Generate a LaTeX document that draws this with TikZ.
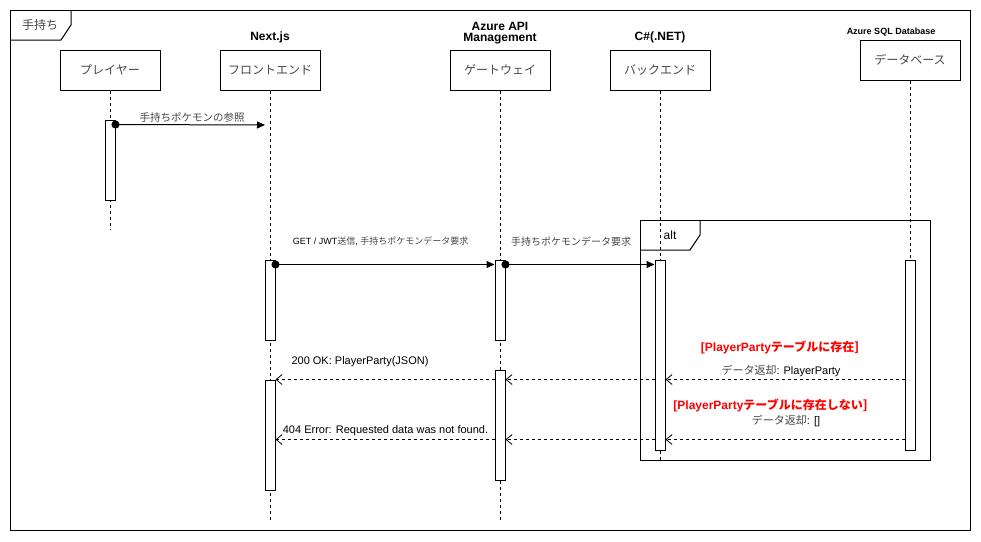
\documentclass[tikz,border=0pt]{standalone}
\usepackage{fontspec}
\setmainfont{Liberation Sans}
\newfontfamily\jp{Noto Sans CJK JP}
\usetikzlibrary{arrows.meta}
\newcommand{\fs}[1]{\fontsize{#1}{#1}\selectfont}
\newcommand{\J}[1]{{\jp\color{black!72}#1}}
\begin{document}
\begin{tikzpicture}[x=1pt,y=-1pt,
  part/.style={draw, line width=1pt, minimum width=100pt, minimum height=40pt, inner sep=0pt},
  act/.style={draw, fill=white, line width=1pt, minimum width=10pt, inner sep=0pt},
  life/.style={line width=1pt, dash pattern=on 3pt off 3pt},
  sync/.style={line width=1pt, {Circle[length=8pt]}-{Triangle[length=8pt,width=7pt]}, shorten <=-4pt},
  ret/.style={line width=0.8pt, dash pattern=on 3pt off 3pt, -{Straight Barb[length=6pt,width=10pt,line width=0.8pt]}},
  lbl/.style={inner sep=0pt, font=\fs{11}},
  small/.style={inner sep=0pt, font=\fs{9}},
  head/.style={inner sep=0pt, font=\bfseries\fs{12}, align=center},
  cond/.style={inner sep=0pt, font=\bfseries\fs{12}, text=red},
  frm/.style={line width=1pt}]
\useasboundingbox (0,0) rectangle (981,541);

% outer frame
\draw[frm] (10,10) rectangle (970,530);
\draw[frm] (10,40) -- (61,40) -- (71,25) -- (71,10);
\node[lbl, font=\fs{12}] (ftitle) at (40,25) {\J{手持ち}};

% headers
\node[head] (hnext) at (270,37) {Next.js};
\node[head] (hapi) at (500,33.5) {Azure API\\[-1pt]Management};
\node[head] (hcs) at (660,37) {C\#(.NET)};
\node[head, font=\bfseries\fs{9}] (hsql) at (891,32) {Azure SQL Database};

% participants
\node[part] (p1) at (110,70) {\fs{12}\J{プレイヤー}};
\node[part] (p2) at (270,70) {\fs{12}\J{フロントエンド}};
\node[part] (p3) at (500,70) {\fs{12}\J{ゲートウェイ}};
\node[part] (p4) at (660,70) {\fs{12}\J{バックエンド}};
\node[part] (p5) at (910,60) {\fs{12}\J{データベース}};

% lifeline ends
\coordinate (e1) at (110,230);
\coordinate (e2) at (270,520);
\coordinate (e3) at (500,520);
\coordinate (e4) at (660,460);
\coordinate (e5) at (910,450);
\draw[life] (p1.south) -- (e1);
\draw[life] (p2.south) -- (e2);
\draw[life] (p3.south) -- (e3);
\draw[life] (p4.south) -- (e4);
\draw[life] (p5.south) -- (e5);

% alt frame
\draw[frm] (640,220) rectangle (930,460);
\draw[frm] (640,250) -- (690,250) -- (700,235) -- (700,220);
\node[lbl, font=\fs{12}] (alt) at (670,235) {alt};

% activations
\node[act, minimum height=80pt] (pa) at (110,160) {};
\node[act, minimum height=80pt] (na1) at (270,300) {};
\node[act, minimum height=110pt] (na2) at (270,435) {};
\node[act, minimum height=80pt] (ga1) at (500,300) {};
\node[act, minimum height=110pt] (ga2) at (500,425) {};
\node[act, minimum height=190pt] (ba) at (660,355) {};
\node[act, minimum height=190pt] (da) at (910,355) {};

% message 1
\coordinate (m1e) at (265,125);
\draw[sync] ([yshift=-5pt]pa.north east) -- (m1e);
\node[lbl, font=\fs{10.5}] (l1) at (192,117) {\J{手持ちポケモンの参照}};

% message 2, 3
\draw[sync] ([yshift=-5pt]na1.north east) -- ([yshift=-5pt]ga1.north west);
\node[small] (l2) at (380.5,241.5) {GET / JWT\J{送信}, \J{手持ちポケモンデータ要求}};
\draw[sync] ([yshift=-5pt]ga1.north east) -- ([yshift=-5pt]ba.north west);
\node[inner sep=0pt, font=\fs{10}] (l3) at (571,241.5) {\J{手持ちポケモンデータ要求}};

% returns (found)
\node[cond] (c1) at (780,347) {[PlayerParty\jp テーブルに存在]};
\node[lbl] (l4) at (781,371) {\J{データ返却}: PlayerParty};
\draw[ret] ([yshift=-120pt]da.north west) -- ([yshift=-120pt]ba.north east);
\draw[ret] ([yshift=-120pt]ba.north west) -- ([yshift=-10pt]ga2.north east);
\draw[ret] ([yshift=-10pt]ga2.north west) -- (na2.north east);
\node[lbl] (l5) at (360,361.5) {200 OK: PlayerParty(JSON)};

% returns (not found)
\node[cond] (c2) at (770.5,405) {[PlayerParty\jp テーブルに存在しない]};
\node[lbl] (l6) at (786,421) {\J{データ返却}: []};
\draw[ret] ([yshift=-180pt]da.north west) -- ([yshift=-180pt]ba.north east);
\draw[ret] ([yshift=-180pt]ba.north west) -- ([yshift=-70pt]ga2.north east);
\draw[ret] ([yshift=-70pt]ga2.north west) -- ([yshift=-60pt]na2.north east);
\node[lbl] (l7) at (385.5,431) {404 Error: Requested data was not found.};
\end{tikzpicture}
\end{document}
